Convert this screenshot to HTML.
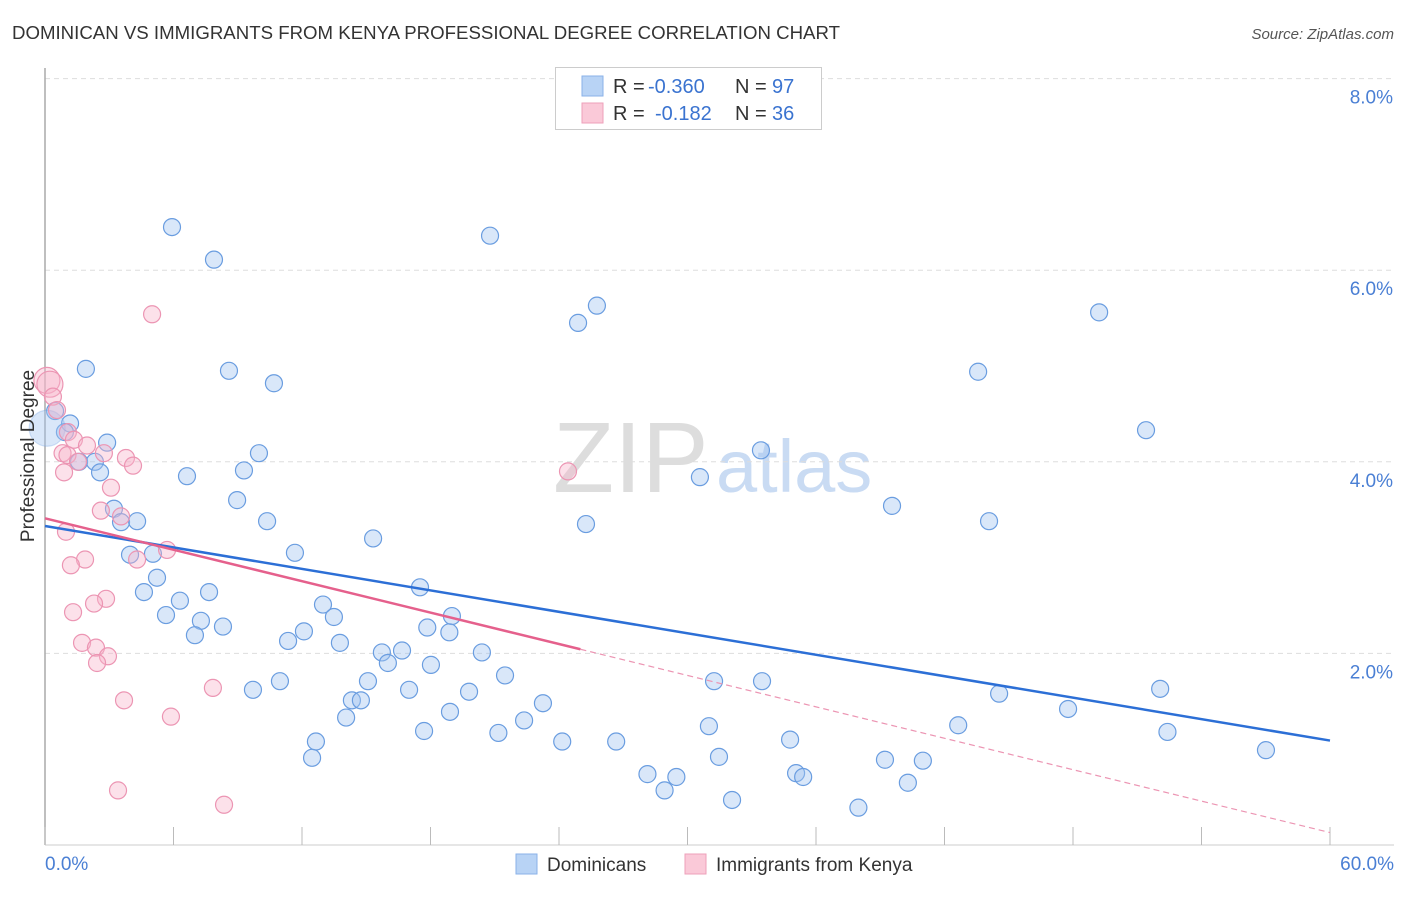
<!DOCTYPE html>
<html><head><meta charset="utf-8"><style>
body{margin:0;background:#fff;font-family:"Liberation Sans",sans-serif;}
svg text{font-family:"Liberation Sans",sans-serif;}
</style></head><body>
<svg id="chart" width="1406" height="892" xmlns="http://www.w3.org/2000/svg">
<text x="12" y="39" font-size="18" fill="#333" textLength="828" lengthAdjust="spacingAndGlyphs">DOMINICAN VS IMMIGRANTS FROM KENYA PROFESSIONAL DEGREE CORRELATION CHART</text>
<text x="1394" y="39" font-size="15" fill="#555" font-style="italic" text-anchor="end">Source: ZipAtlas.com</text>
<text x="553" y="492" font-size="100" fill="#ddd" font-family="Liberation Serif">ZIP</text>
<text x="716" y="492" font-size="74" fill="#c9dbf3">atlas</text>
<g id="grid"></g>
<g id="axes"></g>
<g id="marks"></g>
<g id="lines"></g>
<text transform="translate(34,456) rotate(-90)" font-size="19" fill="#333" text-anchor="middle">Professional Degree</text>
<text x="45" y="870" font-size="19" fill="#4a7fd4">0.0%</text>
<text x="1394" y="870" font-size="19" fill="#4a7fd4" text-anchor="end">60.0%</text>
<g>
<rect x="555.5" y="67.5" width="266" height="62" fill="#fff" stroke="#ccc"/>
<rect x="582" y="76" width="21" height="20" fill="#b8d3f5" stroke="#8ab2e8"/>
<rect x="582" y="103" width="21" height="20" fill="#fac9d8" stroke="#eea0ba"/>
<text x="613" y="93" font-size="20" fill="#333">R = <tspan x="648" fill="#3a73d0">-0.360</tspan><tspan x="735">N = </tspan><tspan x="772" fill="#3a73d0">97</tspan></text>
<text x="613" y="120" font-size="20" fill="#333">R = <tspan x="655" fill="#3a73d0">-0.182</tspan><tspan x="735">N = </tspan><tspan x="772" fill="#3a73d0">36</tspan></text>
</g>
<g>
<rect x="516" y="854" width="21" height="20" fill="#b8d3f5" stroke="#8ab2e8"/>
<text x="547" y="871" font-size="19" fill="#333">Dominicans</text>
<rect x="685" y="854" width="21" height="20" fill="#fac9d8" stroke="#eea0ba"/>
<text x="716" y="871" font-size="19" fill="#333">Immigrants from Kenya</text>
</g>
</svg>
<script>
const yTicks=[2,4,6,8];
const yTickLabels=["2.0%","4.0%","6.0%","8.0%"];
const xTicks=[0,6,12,18,24,30,36,42,48,54,60];
const blueX=[5.93,7.89,20.78,25.77,24.89,49.22,1.91,8.59,10.69,43.57,0.47,1.17,0.93,2.90,51.41,9.99,33.43,1.59,2.33,2.57,9.29,6.63,30.58,8.97,3.22,3.55,4.30,10.37,25.26,39.55,44.08,15.32,3.97,5.04,11.67,5.23,17.51,4.62,7.66,6.30,12.98,5.65,13.49,19.00,7.28,8.31,7.00,12.09,17.85,18.88,11.35,13.77,15.73,16.67,16.01,20.40,18.02,21.48,10.97,15.08,31.24,33.48,9.71,17.00,19.80,52.07,44.55,14.33,14.75,23.25,47.77,18.91,14.06,22.37,31.00,42.64,17.70,21.17,52.41,12.65,24.15,26.67,34.79,57.01,12.47,31.47,39.22,40.99,28.13,29.48,35.07,35.40,28.93,40.29,32.08,37.98,0.1];
const blueY=[6.45,6.11,6.36,5.63,5.45,5.56,4.97,4.95,4.82,4.94,4.53,4.40,4.31,4.20,4.33,4.09,4.12,4.00,4.00,3.89,3.91,3.85,3.84,3.60,3.51,3.37,3.38,3.38,3.35,3.54,3.38,3.20,3.03,3.04,3.05,2.79,2.69,2.64,2.64,2.55,2.51,2.40,2.38,2.39,2.34,2.28,2.19,2.23,2.27,2.22,2.13,2.11,2.01,2.03,1.90,2.01,1.88,1.77,1.71,1.71,1.71,1.71,1.62,1.62,1.60,1.63,1.58,1.51,1.51,1.48,1.42,1.39,1.33,1.30,1.24,1.25,1.19,1.17,1.18,1.08,1.08,1.08,1.10,0.99,0.91,0.92,0.89,0.88,0.74,0.71,0.75,0.71,0.57,0.65,0.47,0.39,4.35];
const pinkX=[5.00,0.09,0.23,0.37,0.56,1.07,1.35,1.96,0.82,1.05,2.75,3.78,1.54,4.11,0.89,3.08,2.61,3.55,0.98,5.70,4.30,1.87,1.21,2.85,2.29,1.31,1.73,2.38,2.94,2.43,7.84,3.69,5.88,24.42,3.41,8.36];
const pinkY=[5.54,4.85,4.81,4.68,4.54,4.31,4.23,4.17,4.09,4.07,4.09,4.04,4.00,3.96,3.89,3.73,3.49,3.43,3.27,3.08,2.98,2.98,2.92,2.57,2.52,2.43,2.11,2.06,1.97,1.90,1.64,1.51,1.34,3.90,0.57,0.42];
const blueTrend=[3.33,1.09];
const pinkTrend=[3.41,0.13];
const pinkSolidEnd=25;
const X0=45,X1=1330,Y0=845,YPX=95.8;
const sx=v=>X0+(X1-X0)*v/60;
const sy=v=>Y0-v*YPX;
const NS="http://www.w3.org/2000/svg";
function mk(t,a,p){const e=document.createElementNS(NS,t);for(const k in a)e.setAttribute(k,a[k]);p.appendChild(e);return e;}
const grid=document.getElementById('grid'),axes=document.getElementById('axes'),marks=document.getElementById('marks'),lines=document.getElementById('lines');
yTicks.forEach((t,i)=>{
 const g=mk('line',{x1:X0,x2:1394,y1:sy(t),y2:sy(t),stroke:'#ddd','stroke-dasharray':'5,4'},grid);
 
 
 const l=mk('text',{x:1393,y:sy(t)+25,'font-size':19,fill:'#4a7fd4','text-anchor':'end'},grid);
 l.textContent=yTickLabels[i];
 
 
});
const ax=mk('line',{x1:X0,x2:X0,y1:68,y2:Y0,stroke:'#aaa','stroke-width':1.5},axes);


const xa=mk('line',{x1:X0,x2:1394,y1:Y0,y2:Y0,stroke:'#ccc'},axes);


xTicks.forEach(t=>{
 const e=mk('line',{x1:sx(t),x2:sx(t),y1:Y0,y2:Y0-18,stroke:'#bbb'},axes);
 
 
});
function pts(xs,ys,fill,stroke,name){
 xs.forEach((x,i)=>{
  const big=(name==='dominican-point'&&i===xs.length-1);
  const r=big?18:(x<0.3&&name==='kenya-point')?13:8.5;
  const c=mk('circle',{cx:sx(x),cy:sy(ys[i]),r:r,fill:fill,stroke:big?'rgba(106,157,224,0.3)':stroke,'stroke-width':1.2},marks);
  
  
 });
}
pts(blueX,blueY,'rgba(160,196,240,0.4)','#6a9de0','dominican-point');
pts(pinkX,pinkY,'rgba(248,180,202,0.4)','#ec95b3','kenya-point');
const bl=mk('line',{x1:sx(0),y1:sy(blueTrend[0]),x2:sx(60),y2:sy(blueTrend[1]),stroke:'#2c6fd6','stroke-width':2.5},lines);


const pAt=x=>pinkTrend[0]+(pinkTrend[1]-pinkTrend[0])*x/60;
const pl=mk('line',{x1:sx(0),y1:sy(pinkTrend[0]),x2:sx(pinkSolidEnd),y2:sy(pAt(pinkSolidEnd)),stroke:'#e5608c','stroke-width':2.5},lines);


const pd=mk('line',{x1:sx(pinkSolidEnd),y1:sy(pAt(pinkSolidEnd)),x2:sx(60),y2:sy(pinkTrend[1]),stroke:'#ec95b3','stroke-width':1.2,'stroke-dasharray':'6,4'},lines);


</script>
</body></html>
